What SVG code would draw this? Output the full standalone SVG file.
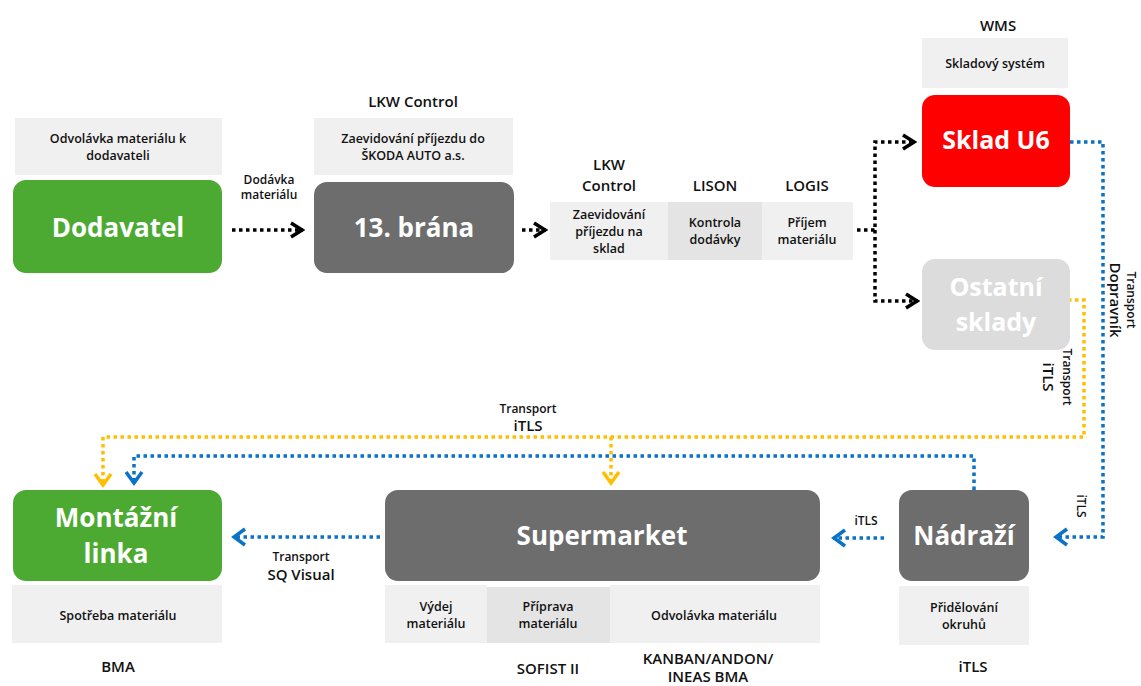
<svg xmlns="http://www.w3.org/2000/svg" width="1141" height="686" viewBox="0 0 1141 686">
<style>
text{font-family:"Open Sans","Noto Sans",sans-serif;font-weight:700;text-anchor:middle;fill:#111}
.big{fill:#fff;font-size:26px}
.sm{font-size:12px;font-weight:600}
.lbl{font-size:15px;font-weight:600}
.cl{font-size:12.5px;font-weight:600}
.cell{fill:#f0f0f0}
.cell2{fill:#e4e4e4}
.blk{fill:none;stroke:#000;stroke-width:3.5;stroke-dasharray:3.5 3.5}
.blu{fill:none;stroke:#0a72c8;stroke-width:3.5;stroke-dasharray:3.5 3.5}
.yel{fill:none;stroke:#ffbf00;stroke-width:3.5;stroke-dasharray:3.5 3.5}
</style>
<defs>
<marker id="mk" viewBox="0 0 16 20" refX="14" refY="10" markerWidth="16" markerHeight="20" markerUnits="userSpaceOnUse" orient="auto"><path d="M2,3 L13,10 L2,17" fill="none" stroke="#000" stroke-width="3.5"/></marker>
<marker id="mb" viewBox="0 0 16 20" refX="14" refY="10" markerWidth="16" markerHeight="20" markerUnits="userSpaceOnUse" orient="auto"><path d="M2,2 L13,10 L2,18" fill="none" stroke="#0a72c8" stroke-width="3.5"/></marker>
<marker id="my" viewBox="0 0 16 20" refX="14" refY="10" markerWidth="16" markerHeight="20" markerUnits="userSpaceOnUse" orient="auto"><path d="M2,2 L13,10 L2,18" fill="none" stroke="#ffbf00" stroke-width="3.5"/></marker>
</defs>

<g id="connectors">
<path class="blk" d="M232,230 H303" marker-end="url(#mk)"/>
<path class="blk" d="M522,230 H546" marker-end="url(#mk)"/>
<path class="blk" d="M857,230 H875 V142 H915" marker-end="url(#mk)"/>
<path class="blk" d="M875,230 V301 H918" marker-end="url(#mk)"/>
<path class="blu" d="M1070,142 H1103 V537 H1055" marker-end="url(#mb)"/>
<path class="yel" d="M1068,300 H1084 V437 H103 V486" marker-end="url(#my)"/>
<path class="yel" d="M611,437 V484" marker-end="url(#my)"/>
<path class="blu" d="M974,490 V456 H134 V484" marker-end="url(#mb)"/>
<path class="blu" d="M884,538 H833" marker-end="url(#mb)"/>
<path class="blu" d="M380,537 H233" marker-end="url(#mb)"/>
<text class="sm" x="269" y="184">Dodávka</text>
<text class="sm" x="269" y="199">materiálu</text>
<text class="sm" x="528" y="413">Transport</text>
<text class="lbl" x="528" y="431">iTLS</text>
<text class="sm" x="866" y="525">iTLS</text>
<text class="sm" x="301" y="561">Transport</text>
<text class="lbl" x="301" y="580">SQ Visual</text>
<text class="sm" transform="translate(1127,300) rotate(90)">Transport</text>
<text class="lbl" transform="translate(1110,300) rotate(90)">Dopravník</text>
<text class="sm" transform="translate(1063,377) rotate(90)">Transport</text>
<text class="lbl" transform="translate(1043,377) rotate(90)">iTLS</text>
<text class="sm" transform="translate(1077,506) rotate(90)">iTLS</text>
</g>

<g id="dodavatel">
<rect class="cell" x="15" y="118" width="207" height="57"/>
<text class="cl" x="118" y="143">Odvolávka materiálu k</text>
<text class="cl" x="118" y="160">dodavateli</text>
<rect x="13" y="180" width="209" height="93" rx="13" fill="#4caa32"/>
<text class="big" x="118" y="237">Dodavatel</text>
</g>

<g id="brana">
<text class="lbl" x="413" y="107">LKW Control</text>
<rect class="cell" x="314" y="118" width="199" height="57"/>
<text class="cl" x="413" y="143">Zaevidování příjezdu do</text>
<text class="cl" x="413" y="160">ŠKODA AUTO a.s.</text>
<rect x="314" y="182" width="200" height="91" rx="13" fill="#6d6d6d"/>
<text class="big" x="414" y="237">13. brána</text>
</g>

<g id="prijem">
<text class="lbl" x="609" y="170">LKW</text>
<text class="lbl" x="609" y="191">Control</text>
<text class="lbl" x="715" y="191">LISON</text>
<text class="lbl" x="807" y="191">LOGIS</text>
<rect class="cell" x="550" y="202" width="118" height="58"/>
<rect class="cell2" x="668" y="202" width="94" height="58"/>
<rect class="cell" x="762" y="202" width="91" height="58"/>
<text class="cl" x="609" y="219">Zaevidování</text>
<text class="cl" x="609" y="236">příjezdu na</text>
<text class="cl" x="609" y="253">sklad</text>
<text class="cl" x="715" y="227">Kontrola</text>
<text class="cl" x="715" y="244">dodávky</text>
<text class="cl" x="807" y="227">Příjem</text>
<text class="cl" x="807" y="244">materiálu</text>
</g>

<g id="skladU6">
<text class="lbl" x="998" y="31">WMS</text>
<rect class="cell" x="922" y="38" width="146" height="50"/>
<text class="cl" x="995" y="68">Skladový systém</text>
<rect x="922" y="95" width="148" height="92" rx="13" fill="#ff0000"/>
<text class="big" x="996" y="149" style="font-size:25px">Sklad U6</text>
</g>

<g id="ostatni">
<rect x="922" y="259" width="148" height="91" rx="13" fill="#dcdcdc"/>
<text class="big" x="996" y="296" style="font-size:25px">Ostatní</text>
<text class="big" x="996" y="331" style="font-size:25px">sklady</text>
</g>

<g id="montazni">
<rect x="13" y="490" width="209" height="91" rx="13" fill="#4caa32"/>
<text class="big" x="116" y="527">Montážní</text>
<text class="big" x="116" y="563">linka</text>
<rect class="cell" x="12" y="585" width="210" height="58"/>
<text class="cl" x="118" y="620">Spotřeba materiálu</text>
<text class="lbl" x="118" y="672">BMA</text>
</g>

<g id="supermarket">
<rect x="385" y="490" width="435" height="91" rx="13" fill="#6d6d6d"/>
<text class="big" x="602" y="545">Supermarket</text>
<rect class="cell" x="385" y="585" width="102" height="58"/>
<rect class="cell2" x="487" y="587" width="123" height="56"/>
<rect class="cell" x="610" y="585" width="210" height="58"/>
<text class="cl" x="436" y="611">Výdej</text>
<text class="cl" x="436" y="628">materiálu</text>
<text class="cl" x="548" y="611">Příprava</text>
<text class="cl" x="548" y="628">materiálu</text>
<text class="cl" x="714" y="620">Odvolávka materiálu</text>
<text class="lbl" x="548" y="674">SOFIST II</text>
<text class="lbl" x="708" y="664">KANBAN/ANDON/</text>
<text class="lbl" x="708" y="682">INEAS BMA</text>
</g>

<g id="nadrazi">
<rect x="899" y="490" width="130" height="91" rx="13" fill="#6d6d6d"/>
<text class="big" x="964" y="545">Nádraží</text>
<rect class="cell" x="899" y="586" width="130" height="59"/>
<text class="cl" x="964" y="612">Přidělování</text>
<text class="cl" x="964" y="629">okruhů</text>
<text class="lbl" x="973" y="672">iTLS</text>
</g>
</svg>
